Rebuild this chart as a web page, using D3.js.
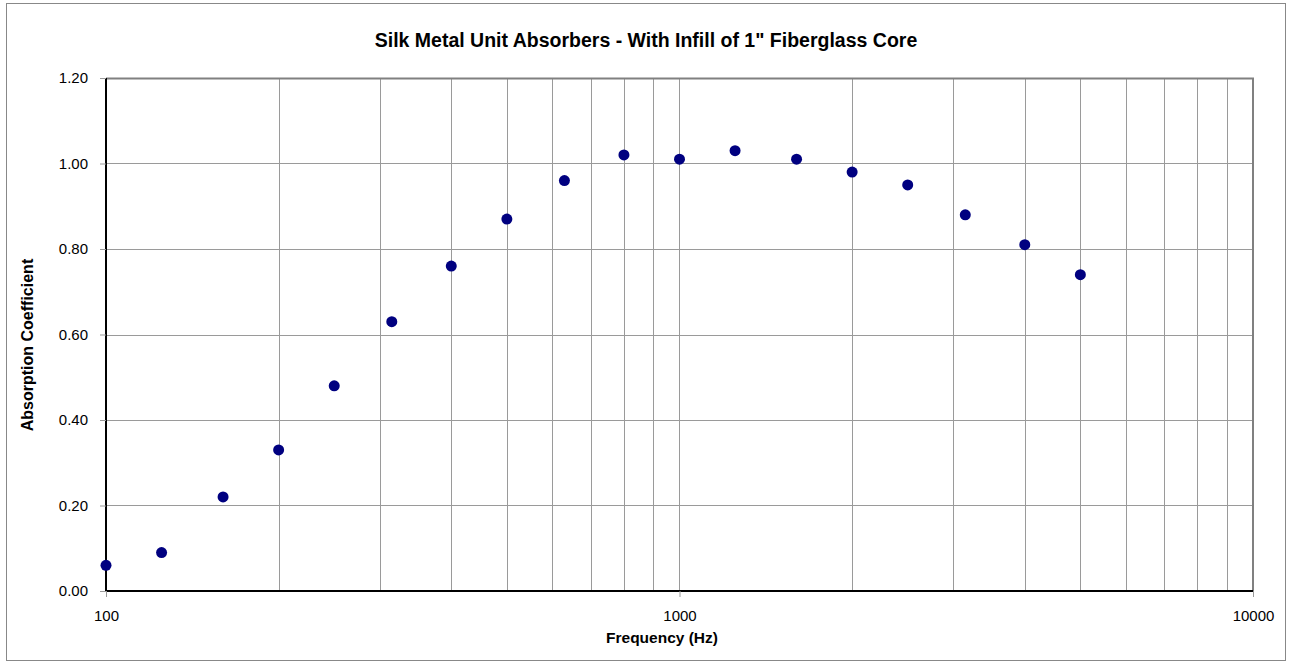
<!DOCTYPE html>
<html>
<head>
<meta charset="utf-8">
<script src="https://cdn.jsdelivr.net/npm/d3@7"></script>
<style>
  body { margin: 0; background: #fff; }
  text { font-family: "Liberation Sans", Arial, sans-serif; fill: #000; }
</style>
</head>
<body>
<div id="chart"></div>
<script>
// Chart data
var frequencies = [100, 125, 160, 200, 250, 315, 400, 500, 630, 800, 1000, 1250, 1600, 2000, 2500, 3150, 4000, 5000];
var absorption = [0.06, 0.09, 0.22, 0.33, 0.48, 0.63, 0.76, 0.87, 0.96, 1.02, 1.01, 1.03, 1.01, 0.98, 0.95, 0.88, 0.81, 0.74];
var yTicks = [0, 0.2, 0.4, 0.6, 0.8, 1.0, 1.2];
var xLabelTicks = [100, 1000, 10000];

var svgWidth = 1289;
var svgHeight = 662;

var margin = { top: 78, right: 36, bottom: 71, left: 106 };
var width = svgWidth - margin.left - margin.right;
var height = svgHeight - margin.top - margin.bottom;

var svg = d3.select("#chart")
  .append("svg")
  .attr("width", svgWidth)
  .attr("height", svgHeight);

// outer frame
svg.append("rect")
  .attr("x", 6.5).attr("y", 3.5)
  .attr("width", 1279).attr("height", 657)
  .attr("fill", "#fff")
  .attr("stroke", "#888")
  .attr("stroke-width", 1);

var chartGroup = svg.append("g")
  .attr("transform", `translate(${margin.left}, ${margin.top})`);

// Scales
var xLogScale = d3.scaleLog()
  .domain([100, 10000])
  .range([0, width]);

var yLinearScale = d3.scaleLinear()
  .domain([0, 1.2])
  .range([height, 0]);

// minor + major vertical gridlines
var gridX = [];
[100, 1000].forEach(function(base) {
  for (var k = 1; k <= 9; k++) gridX.push(base * k);
});

chartGroup.append("g")
  .selectAll("line")
  .data(gridX.filter(d => d > 100))
  .enter()
  .append("line")
  .attr("x1", d => Math.round(xLogScale(d)) + 0.5)
  .attr("x2", d => Math.round(xLogScale(d)) + 0.5)
  .attr("y1", 0)
  .attr("y2", height)
  .attr("stroke", "#9a9a9a")
  .attr("stroke-width", 1);

// horizontal gridlines
chartGroup.append("g")
  .selectAll("line")
  .data(yTicks.filter(d => d > 0 && d < 1.2))
  .enter()
  .append("line")
  .attr("x1", 0)
  .attr("x2", width)
  .attr("y1", d => Math.round(yLinearScale(d)) + 0.5)
  .attr("y2", d => Math.round(yLinearScale(d)) + 0.5)
  .attr("stroke", "#9a9a9a")
  .attr("stroke-width", 1);

// top and right border
chartGroup.append("path")
  .attr("d", `M0,0.5H${width}V${height}`)
  .attr("fill", "none")
  .attr("stroke", "#808080")
  .attr("stroke-width", 2);

// Axes
var leftAxis = d3.axisLeft(yLinearScale)
  .tickValues(yTicks)
  .tickFormat(d3.format(".2f"))
  .tickSize(6)
  .tickPadding(12);

var bottomAxis = d3.axisBottom(xLogScale)
  .tickValues(xLabelTicks)
  .tickFormat(d3.format("d"))
  .tickSize(6)
  .tickPadding(13);

var yAxisG = chartGroup.append("g")
  .call(leftAxis);

var xAxisG = chartGroup.append("g")
  .attr("transform", `translate(0, ${height})`)
  .call(bottomAxis);

[yAxisG, xAxisG].forEach(function(g) {
  g.select(".domain").attr("stroke", "#000").attr("stroke-width", 2);
  g.selectAll(".tick line").attr("stroke", "#999");
  g.selectAll(".tick text")
    .style("font-family", "'Liberation Sans', Arial, sans-serif")
    .style("font-size", "15px")
    .attr("fill", "#000");
});
yAxisG.select(".domain").attr("d", `M0,0V${height}`);
xAxisG.select(".domain").attr("d", `M0,0H${width}`);

// Points
chartGroup.append("g")
  .selectAll("circle")
  .data(frequencies)
  .enter()
  .append("circle")
  .attr("cx", d => xLogScale(d))
  .attr("cy", (d, i) => yLinearScale(absorption[i]))
  .attr("r", 5.5)
  .attr("fill", "#000080");

// Title and axis labels
svg.append("text")
  .attr("x", 646)
  .attr("y", 47)
  .attr("text-anchor", "middle")
  .style("font-size", "19.5px")
  .style("font-weight", "bold")
  .text("Silk Metal Unit Absorbers - With Infill of 1\" Fiberglass Core");

svg.append("text")
  .attr("transform", "translate(33, 345) rotate(-90)")
  .attr("text-anchor", "middle")
  .style("font-size", "16px")
  .style("font-weight", "bold")
  .text("Absorption Coefficient");

svg.append("text")
  .attr("x", 662)
  .attr("y", 643)
  .attr("text-anchor", "middle")
  .style("font-size", "15.5px")
  .style("font-weight", "bold")
  .text("Frequency (Hz)");
</script>
</body>
</html>
